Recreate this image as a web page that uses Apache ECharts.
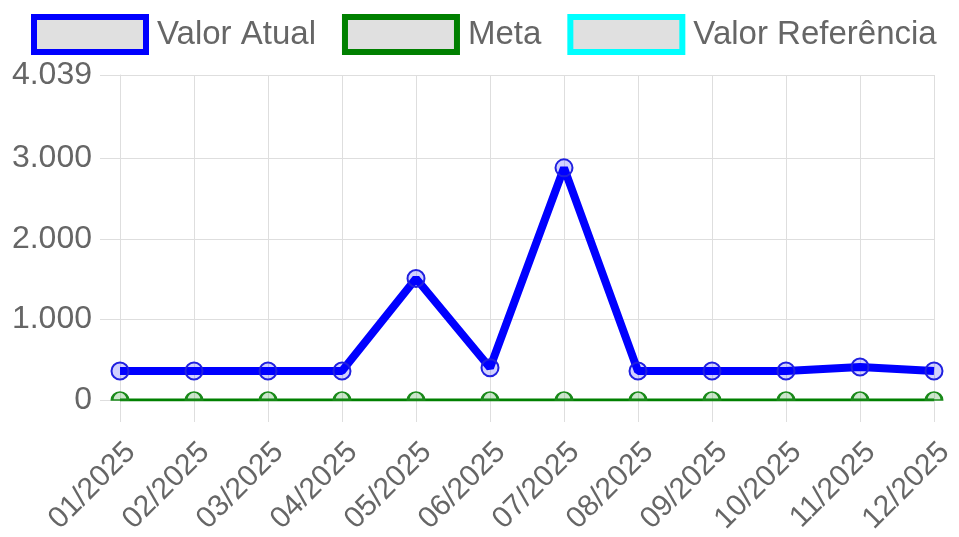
<!DOCTYPE html>
<html>
<head>
<meta charset="utf-8">
<script src="https://cdn.jsdelivr.net/npm/echarts@6/dist/echarts.min.js"></script>
<style>
  html, body { margin: 0; padding: 0; background: #fff; }
  #chart { width: 959px; height: 537px; }
</style>
</head>
<body>
<div id="chart"></div>
<script>
var meses = ['01/2025','02/2025','03/2025','04/2025','05/2025','06/2025','07/2025','08/2025','09/2025','10/2025','11/2025','12/2025'];
var valorAtual = [360, 360, 360, 360, 1510, 400, 2885, 360, 360, 360, 410, 360];
var meta = [0, 0, 0, 0, 0, 0, 0, 0, 0, 0, 0, 0];
var valorReferencia = [];
var yTicks = [0, 1000, 2000, 3000, 4039];

// separador de milhar pt-BR
function fmt(v) {
    return String(Math.round(v)).replace(/\B(?=(\d{3})+(?!\d))/g, '.');
}

var fonte = 'Liberation Sans, Arial, sans-serif';
var grade = '#dedede';
var myChart = echarts.init(document.getElementById('chart'));
var option = {
    animation: false,
    legend: {
        top: 9,
        left: 26,
        itemWidth: 112,
        itemHeight: 35,
        itemGap: 26,
        icon: 'rect',
        textStyle: { fontSize: 33, color: '#666', fontFamily: fonte, padding: [0, 0, 0, 6] },
        data: [
            { name: 'Valor Atual', itemStyle: { color: '#e0e0e0', borderColor: '#0000ff', borderWidth: 6 } },
            { name: 'Meta', itemStyle: { color: '#e0e0e0', borderColor: '#008000', borderWidth: 6 } },
            { name: 'Valor Referência', itemStyle: { color: '#e0e0e0', borderColor: '#00ffff', borderWidth: 6 } }
        ]
    },
    grid: { left: 120, right: 25, top: 75, bottom: 137 },
    xAxis: {
        type: 'category',
        data: meses,
        boundaryGap: false,
        axisLine: { show: true, lineStyle: { color: grade } },
        axisTick: { show: true, length: 22, alignWithLabel: true, lineStyle: { color: grade } },
        splitLine: { show: true, lineStyle: { color: grade } },
        axisLabel: { rotate: 45, fontSize: 30, color: '#666', fontFamily: fonte, margin: 37, verticalAlign: 'top', interval: 0 }
    },
    yAxis: {
        type: 'value',
        min: 0,
        max: 4039,
        axisLine: { show: true, lineStyle: { color: grade } },
        axisTick: { show: true, length: 20, customValues: yTicks, lineStyle: { color: grade } },
        splitLine: { show: true, lineStyle: { color: grade } },
        axisLabel: { customValues: yTicks, fontSize: 32, color: '#666', fontFamily: fonte, margin: 28, formatter: fmt }
    },
    series: [
        {
            name: 'Valor Atual',
            type: 'line',
            data: valorAtual,
            symbol: 'circle',
            symbolSize: 17,
            lineStyle: { color: '#0000ff', width: 8 },
            itemStyle: { color: 'rgba(0,0,255,0.18)', borderColor: '#2020e0', borderWidth: 2 },
            z: 3
        },
        {
            name: 'Meta',
            type: 'line',
            data: meta,
            symbol: 'path://M0,10A10,10,0,0,1,20,10Z',
            symbolSize: [16, 8],
            symbolOffset: [0, -4],
            lineStyle: { color: '#008000', width: 3 },
            itemStyle: { color: 'rgba(0,128,0,0.2)', borderColor: '#1a8a1a', borderWidth: 2 },
            z: 2
        },
        {
            name: 'Valor Referência',
            type: 'line',
            data: valorReferencia,
            lineStyle: { color: '#00ffff', width: 3 },
            itemStyle: { color: '#00ffff' }
        }
    ]
};
myChart.setOption(option);
</script>
</body>
</html>
